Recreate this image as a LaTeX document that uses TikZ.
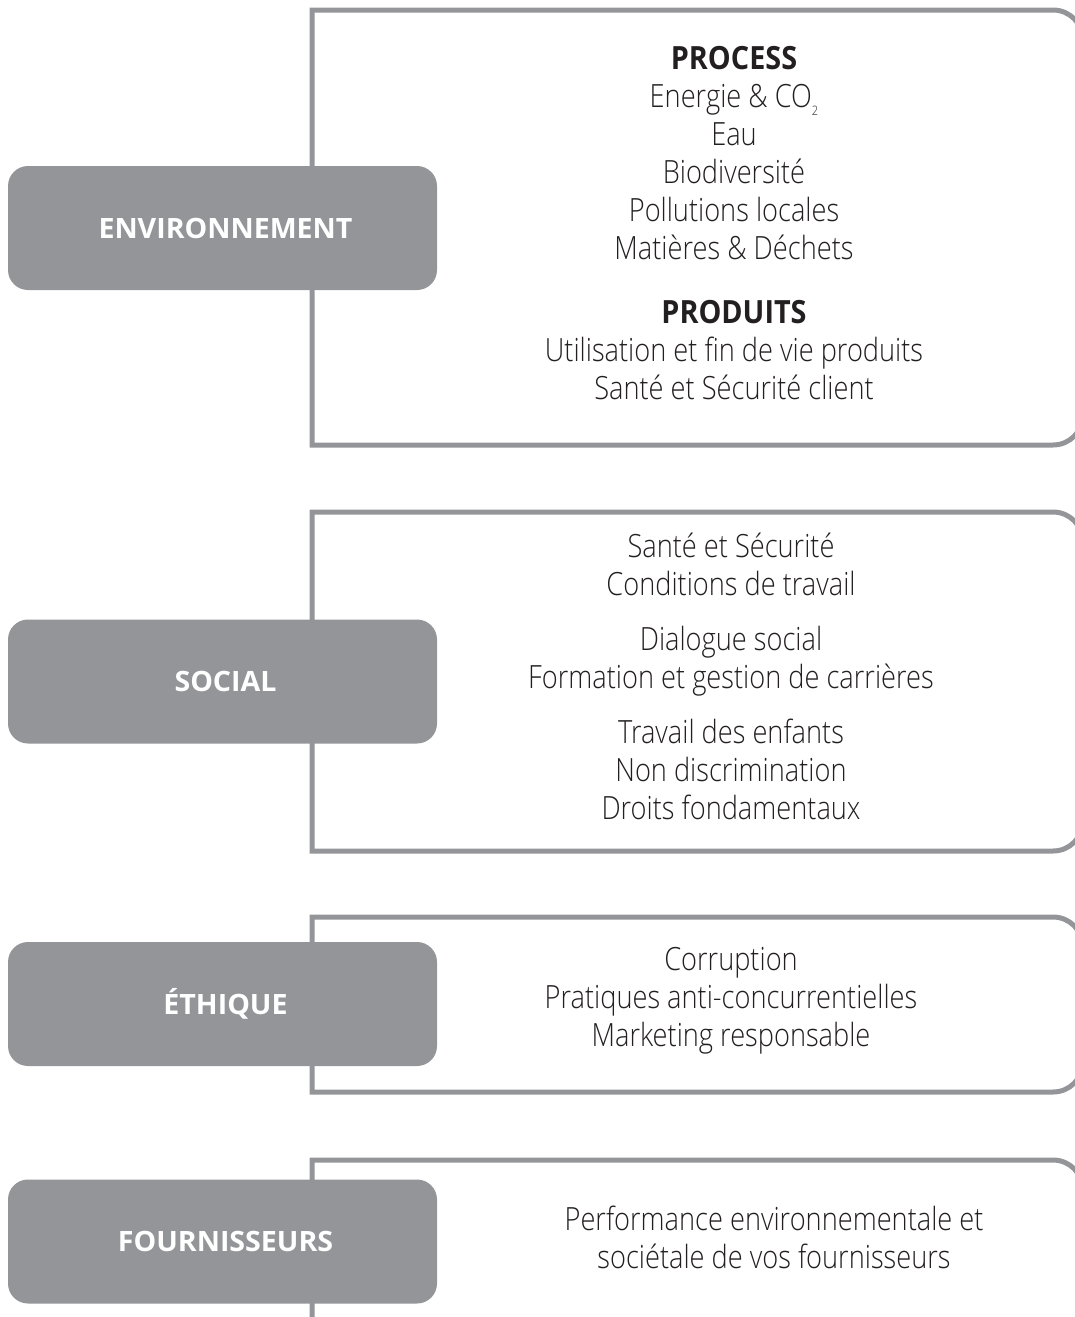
\documentclass[tikz,border=0pt]{standalone}
\usepackage{fontspec}
\IfFontExistsTF{Open Sans Light}
  {\newfontfamily\bodyfont{Open Sans Light}[FakeStretch=0.85]}
  {\newfontfamily\bodyfont{Open Sans}[FakeStretch=0.85]}
\newfontfamily\headfont{Open Sans}[UprightFont=* Bold, FakeStretch=0.9]
\newfontfamily\labelfont{Open Sans}[UprightFont=* Bold, FakeStretch=1.02]
\definecolor{boxgray}{HTML}{939598}
\definecolor{txt}{HTML}{231F20}
\tikzset{
  outline/.style={draw=boxgray, line width=5pt, line join=miter},
  label/.style={fill=boxgray, rounded corners=20pt, minimum width=429pt, minimum height=124pt,
     inner sep=0pt, text=white, font=\labelfont\fontsize{28}{32}\selectfont},
  body/.style={anchor=north, inner sep=0pt, align=center, text=txt,
     font=\bodyfont\fontsize{32}{38}\selectfont},
}
\newcommand{\hd}[1]{{\headfont #1}}
\begin{document}
\begin{tikzpicture}[x=1pt,y=-1pt]
\useasboundingbox (0,0) rectangle (1074,1317);
% outline frames
\draw[outline] (312,445) -- (312,10) -- (1000,10) [rounded corners=30pt] -- (1083,10) -- (1083,445) -- (1000,445) [sharp corners] -- cycle;
\draw[outline] (312,851) -- (312,512) -- (1000,512) [rounded corners=30pt] -- (1083,512) -- (1083,851) -- (1000,851) [sharp corners] -- cycle;
\draw[outline] (312,1092) -- (312,917) -- (1000,917) [rounded corners=30pt] -- (1083,917) -- (1083,1092) -- (1000,1092) [sharp corners] -- cycle;
\draw[outline] (312,1400) -- (312,1160) -- (1000,1160) [rounded corners=30pt] -- (1083,1160) -- (1083,1400) -- (1000,1400) [sharp corners] -- cycle;
% labels
\node[label] (env) at (222.5,228) {\hspace*{6pt}ENVIRONNEMENT};
\node[label] (soc) at (222.5,681.5) {\hspace*{6pt}SOCIAL};
\node[label] (eth) at (222.5,1004) {\hspace*{6pt}ÉTHIQUE};
\node[label] (fou) at (222.5,1241.5) {\hspace*{6pt}FOURNISSEURS};
% contents
\node[body] (envtxt) at (734,69-26.6) {\strut\hd{PROCESS}\\
  Energie \& CO\raisebox{-0.25em}{\fontsize{13}{13}\selectfont 2}\\
  Eau\\ Biodiversité\\ Pollutions locales\\ Matières \& Déchets\\[26pt]
  \hd{PRODUITS}\\ Utilisation et fin de vie produits\\ Santé et Sécurité client};
\node[body] (soctxt) at (731,557-26.6) {\strut Santé et Sécurité\\ Conditions de travail\\[17pt]
  Dialogue social\\ Formation et gestion de carrières\\[17pt]
  Travail des enfants\\ Non discrimination\\ Droits fondamentaux};
\node[body] (ethtxt) at (731,970-26.6) {\strut Corruption\\ Pratiques anti-concurrentielles\\ Marketing responsable};
\node[body] (foutxt) at (774,1230-26.6) {\strut Performance environnementale et\\ sociétale de vos fournisseurs};
\end{tikzpicture}
\end{document}
